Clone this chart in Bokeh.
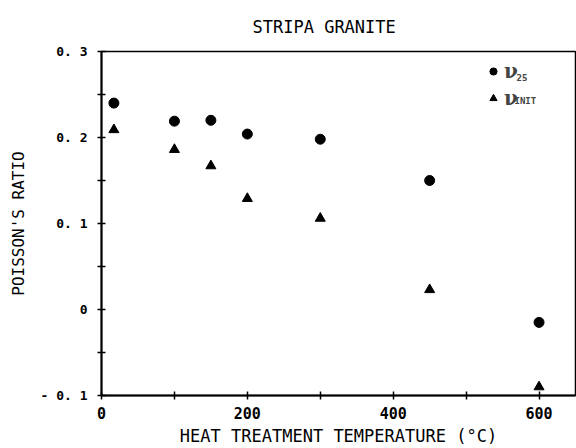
from bokeh.plotting import figure
from bokeh.models import FixedTicker, Legend, LegendItem, Label, Range1d
from bokeh.embed import file_html
from bokeh.resources import INLINE

# Data
temperature = [17, 100, 150, 200, 300, 450, 600]
nu_25 = [0.240, 0.219, 0.220, 0.204, 0.198, 0.150, -0.015]
nu_init = [0.209, 0.186, 0.167, 0.129, 0.106, 0.023, -0.090]

x_major = [0, 200, 400, 600]
x_minor = [100, 300, 500]
y_major = [-0.1, 0.0, 0.1, 0.2, 0.3]
y_minor = [-0.05, 0.05, 0.15, 0.25]
y_labels = {-0.1: "- 0. 1", 0.0: "0", 0.1: "0. 1", 0.2: "0. 2", 0.3: "0. 3"}

title_text = "STRIPA GRANITE"
x_title = "HEAT TREATMENT TEMPERATURE (\u00b0C)"
y_title = "POISSON'S RATIO"

MONO = "DejaVu Sans Mono"

p = figure(width=576, height=448, output_backend="svg", toolbar_location=None,
           x_range=Range1d(0, 650), y_range=Range1d(-0.1, 0.3),
           min_border_left=101, min_border_right=1, min_border_top=50, min_border_bottom=53,
           background_fill_color="white", border_fill_color="white")

p.title.text = title_text
p.title.align = "left"
p.title.offset = 151
p.title.standoff = 29
p.title.text_font = MONO
p.title.text_font_size = "17px"
p.title.text_font_style = "normal"
p.title.text_color = "black"

p.grid.visible = False
p.outline_line_color = "black"
p.outline_line_width = 1.5

p.xaxis.ticker = FixedTicker(ticks=x_major, minor_ticks=x_minor)
p.yaxis.ticker = FixedTicker(ticks=y_major, minor_ticks=y_minor)
p.yaxis.major_label_overrides = y_labels

for ax in (p.xaxis[0], p.yaxis[0]):
    ax.axis_line_width = 2
    ax.axis_line_color = "black"
    ax.major_tick_in = 4
    ax.major_tick_out = 4
    ax.minor_tick_in = 4
    ax.minor_tick_out = 4
    ax.major_tick_line_width = 1.5
    ax.minor_tick_line_width = 1.5
    ax.major_tick_line_color = "black"
    ax.minor_tick_line_color = "black"
    ax.major_label_text_font = MONO
    ax.major_label_text_font_style = "bold"
    ax.major_label_text_color = "black"
    ax.axis_label_text_font = MONO
    ax.axis_label_text_font_style = "normal"
    ax.axis_label_text_color = "black"

p.xaxis.major_label_text_font_size = "15px"
p.yaxis.major_label_text_font_size = "13px"
p.xaxis.axis_label = x_title
p.yaxis.axis_label = y_title
p.xaxis.axis_label_text_font_size = "17px"
p.yaxis.axis_label_text_font_size = "16px"
p.xaxis.major_label_standoff = 7
p.yaxis.major_label_standoff = 10
p.xaxis.axis_label_standoff = 4
p.yaxis.axis_label_standoff = 10

r1 = p.scatter(temperature, nu_25, marker="circle", size=10, color="black")
r2 = p.scatter(temperature, nu_init, marker="triangle", size=10, color="black")

legend = Legend(items=[LegendItem(label="\u03bd", renderers=[r1]),
                       LegendItem(label="\u03bd", renderers=[r2])],
                location=(383, 285), orientation="vertical",
                glyph_width=18, glyph_height=20, label_height=20, spacing=3,
                padding=0, margin=0, label_standoff=2,
                border_line_color=None, background_fill_alpha=0,
                label_text_font="DejaVu Serif", label_text_font_style="bold",
                label_text_font_size="20px")
p.add_layout(legend)

sub_25 = Label(x=415, y=315, x_units="screen", y_units="screen", text="25",
               text_font=MONO, text_font_style="bold", text_font_size="9px")
sub_init = Label(x=413, y=290, x_units="screen", y_units="screen", text="INIT",
                 text_font=MONO, text_font_style="bold", text_font_size="9px")
p.add_layout(sub_25)
p.add_layout(sub_init)

open("out.html", "w").write(file_html(p, INLINE))
